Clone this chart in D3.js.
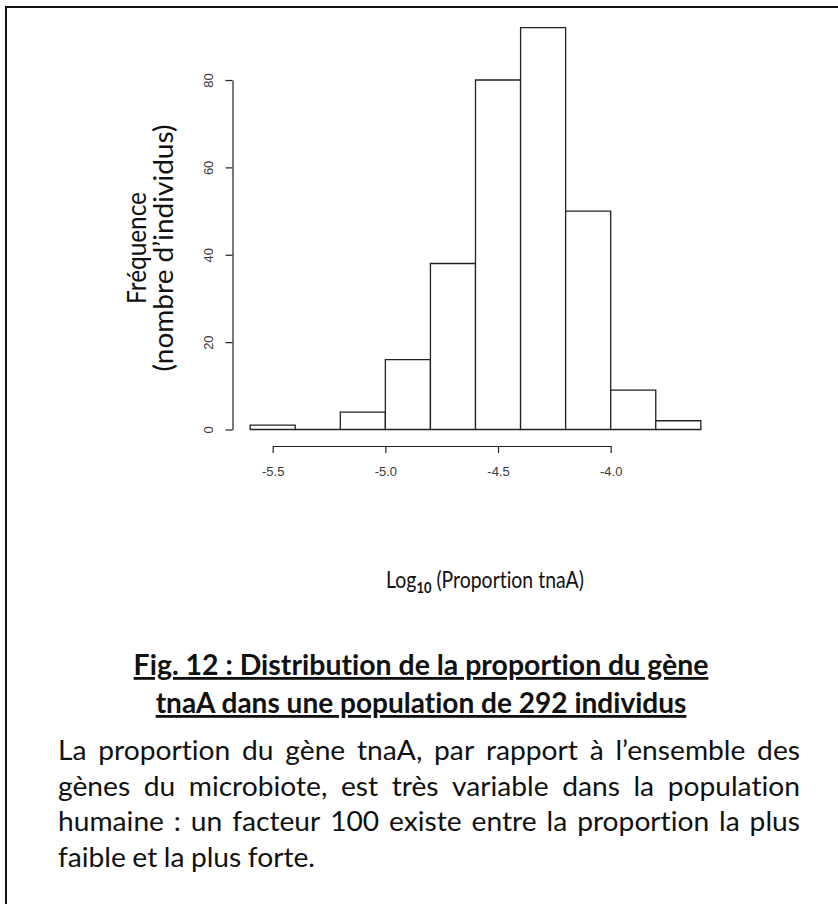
<!DOCTYPE html>
<html>
<head>
<meta charset="utf-8">
<script src="https://cdn.jsdelivr.net/npm/d3@7/dist/d3.min.js"></script>
<style>
  body { margin: 0; background: #fff; }
  svg { display: block; }
  .axis text { font-family: "Liberation Sans", Arial, sans-serif; font-size: 13px; fill: #3a3a3a; }
  .axis path, .axis line { stroke: #222; stroke-width: 1.2; }
  .label { font-family: Lato, "Open Sans", sans-serif; fill: #111;
           font-variant-ligatures: none; font-feature-settings: "liga" 0; }
</style>
</head>
<body>
<svg id="chart" width="838" height="904"></svg>
<script>
// histogram (log10 proportion of tnaA, 292 people)
const binEdges = [-5.6, -5.4, -5.2, -5.0, -4.8, -4.6, -4.4, -4.2, -4.0, -3.8, -3.6];
const counts = [1, 0, 4, 16, 38, 80, 92, 50, 9, 2];
const xTicks = [-5.5, -5.0, -4.5, -4.0];
const yTicks = [0, 20, 40, 60, 80];

const yLabelLines = ['Fréquence', '(nombre d’individus)'];
const titleLines = [
  'Fig. 12 : Distribution de la proportion du gène',
  'tnaA dans une population de 292 individus'
];
const noteLines = [
  'La proportion du gène tnaA, par rapport à l’ensemble des',
  'gènes du microbiote, est très variable dans la population',
  'humaine : un facteur 100 existe entre la proportion la plus',
  'faible et la plus forte.'
];

const svg = d3.select('#chart');

// squeeze a text horizontally round its anchor so it takes the wanted width
// (the original face is narrower than anything installed here)
const squeeze = (sel, width, ax, ay, rot) => {
  const w = sel.node().getComputedTextLength();
  const k = width / w;
  sel.attr('transform', `translate(${ax},${ay})${rot ? ' rotate(-90)' : ''} scale(${k},1)`);
  return k;
};

// frame (only top and left edges show in the picture)
svg.append('path')
  .attr('d', 'M6,904V7H838')
  .attr('fill', 'none')
  .attr('stroke', '#111')
  .attr('stroke-width', 2);

// scales
const x = d3.scaleLinear().domain([-5.5, -4.0]).range([272.7, 610.7]);
const y = d3.scaleLinear().domain([0, 80]).range([429.5, 80]);

const bins = counts.map((n, i) => ({ x0: binEdges[i], x1: binEdges[i + 1], n }));

// bars as paths so that an empty bin still leaves its base line
svg.append('g')
  .selectAll('path')
  .data(bins)
  .enter()
  .append('path')
  .attr('d', d => `M${x(d.x0)},${y(0)}V${y(d.n)}H${x(d.x1)}V${y(0)}Z`)
  .attr('fill', '#fff')
  .attr('stroke', '#222')
  .attr('stroke-width', 1.3);

// x axis
svg.append('g')
  .attr('class', 'axis')
  .attr('transform', 'translate(0,446)')
  .call(d3.axisBottom(x)
    .tickValues(xTicks)
    .tickSize(7)
    .tickSizeOuter(0)
    .tickPadding(14)
    .tickFormat(d => d.toFixed(1)));

// y axis, labels turned like R does
const yAxis = svg.append('g')
  .attr('class', 'axis')
  .attr('transform', 'translate(232.5,0)')
  .call(d3.axisLeft(y)
    .tickValues(yTicks)
    .tickSize(7)
    .tickSizeOuter(0)
    .tickFormat(d3.format('d')));

yAxis.selectAll('.tick text')
  .attr('transform', 'rotate(-90)')
  .attr('x', 0)
  .attr('y', -20)
  .attr('dy', 0)
  .attr('text-anchor', 'middle');

// y label, two rotated lines
const yLabBase = [146, 173];
const yLabLen = [112, 247];
yLabelLines.forEach((line, i) => {
  const t = svg.append('text')
    .attr('class', 'label')
    .attr('text-anchor', 'middle')
    .style('font-size', '26px')
    .text(line);
  squeeze(t, yLabLen[i], yLabBase[i], 248, true);
});

// x label with subscript
const xLab = svg.append('text')
  .attr('class', 'label')
  .attr('text-anchor', 'middle')
  .style('font-size', '24px');
xLab.append('tspan').text('Log');
xLab.append('tspan').attr('dy', 5).style('font-size', '16px').style('font-weight', 'bold').text('10');
xLab.append('tspan').attr('dy', -5).text(' (Proportion tnaA)');
squeeze(xLab, 198, 485, 588, false);

// title, bold and underlined
const titleLen = [575, 531];
titleLines.forEach((line, i) => {
  const t = svg.append('text')
    .attr('class', 'label')
    .attr('text-anchor', 'middle')
    .style('font-size', '28px')
    .style('font-weight', 'bold')
    .style('text-decoration', 'underline')
    .text(line);
  squeeze(t, titleLen[i], 421, 675 + i * 38, false);
});

// caption, justified word by word
const left = 58, right = 800, lastWidth = 257;
const note = svg.append('g').attr('class', 'label');
const lineNodes = noteLines.map((line, i) => line.split(' ').map(w => note.append('text')
  .attr('y', 760 + i * 35.5)
  .style('font-size', '26px')
  .text(w)));
// glyph squeeze taken from the last, unjustified line
const spaceW = 6.5;
const lastNodes = lineNodes[lineNodes.length - 1];
const lastNatural = d3.sum(lastNodes, n => n.node().getComputedTextLength());
const k = (lastWidth - spaceW * (lastNodes.length - 1)) / lastNatural;
lineNodes.forEach((nodes, i) => {
  const widths = nodes.map(n => n.node().getComputedTextLength() * k);
  const total = d3.sum(widths);
  const last = i === lineNodes.length - 1;
  const gap = last ? spaceW : (right - left - total) / (nodes.length - 1);
  let cx = left;
  nodes.forEach((n, j) => {
    n.attr('x', cx)
      .attr('textLength', widths[j])
      .attr('lengthAdjust', 'spacingAndGlyphs');
    cx += widths[j] + gap;
  });
});
</script>
</body>
</html>
